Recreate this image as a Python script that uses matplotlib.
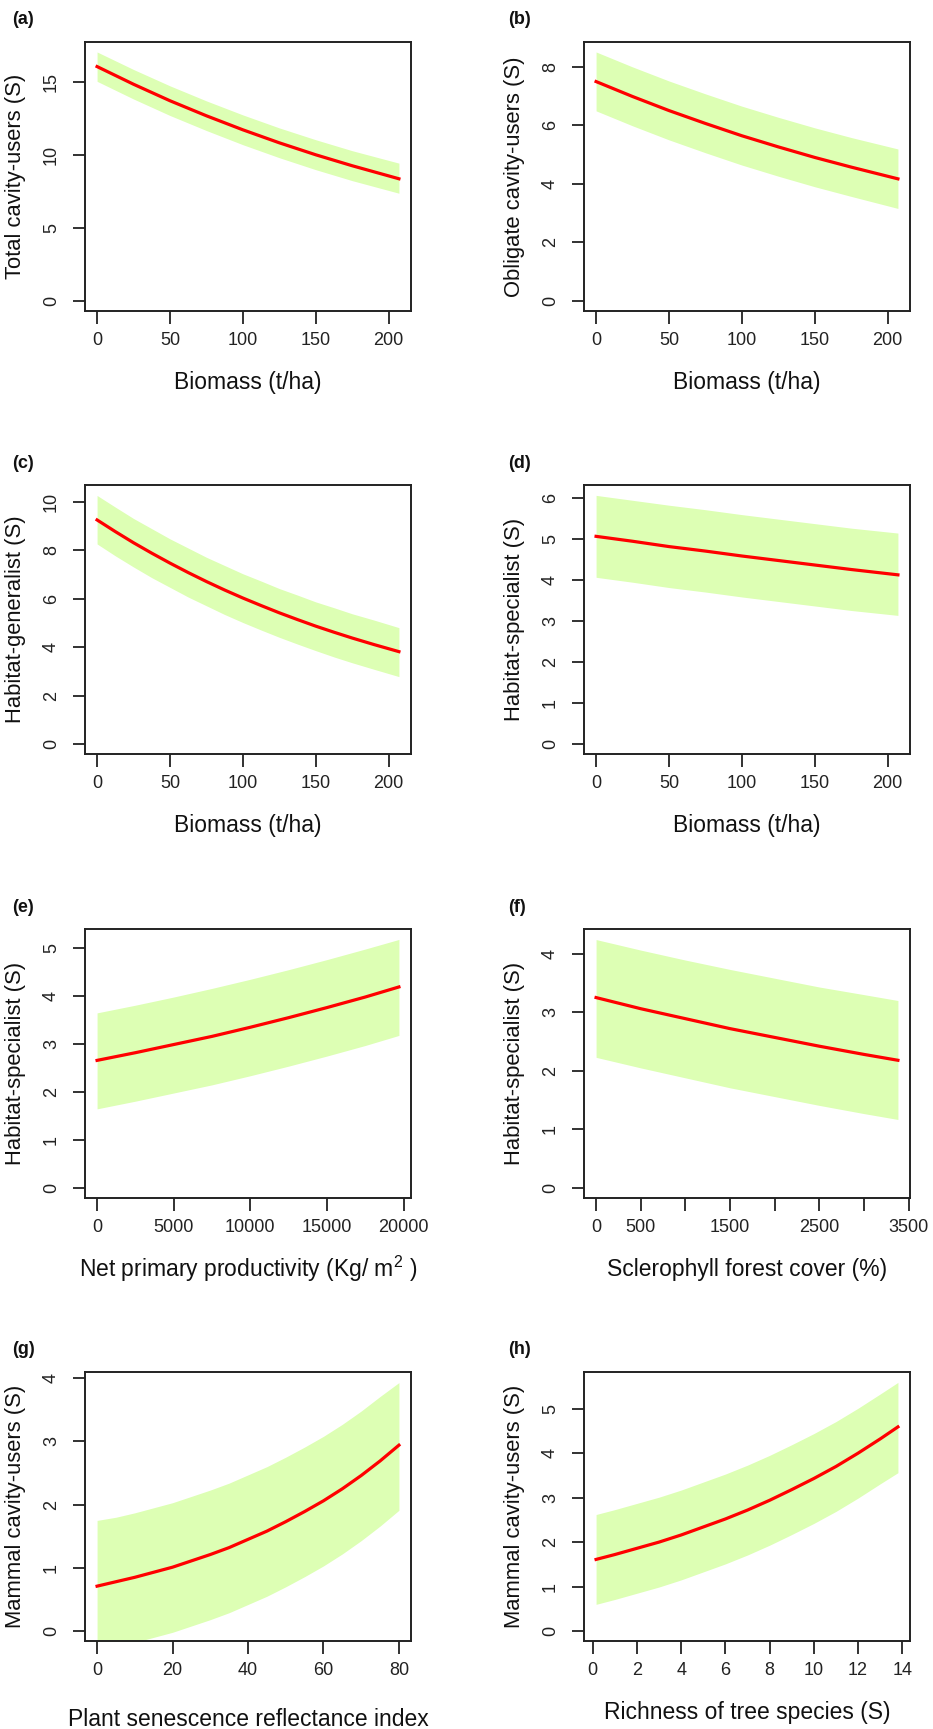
import matplotlib
matplotlib.use('Agg')
import matplotlib.pyplot as plt

plt.rcParams['font.family'] = ['Liberation Sans', 'DejaVu Sans']
plt.rcParams['mathtext.fontset'] = 'custom'
plt.rcParams['mathtext.rm'] = 'Liberation Sans'
plt.rcParams['mathtext.it'] = 'Liberation Sans:italic'

# (a) total cavity-users vs biomass
a_x = [0, 25, 50, 75, 100, 125, 150, 175, 207]
a_fit = [16.05, 14.84, 13.71, 12.68, 11.72, 10.83, 10.01, 9.26, 8.37]
a_lo = [15.04, 13.83, 12.70, 11.67, 10.70, 9.81, 8.99, 8.24, 7.38]
a_hi = [17.05, 15.85, 14.73, 13.70, 12.74, 11.85, 11.04, 10.29, 9.44]

# (b) obligate cavity-users vs biomass
b_x = [0, 25, 50, 75, 100, 125, 150, 175, 207]
b_fit = [7.49, 6.98, 6.50, 6.06, 5.64, 5.26, 4.90, 4.57, 4.17]
b_lo = [6.49, 5.98, 5.50, 5.06, 4.64, 4.26, 3.90, 3.57, 3.16]
b_hi = [8.50, 7.99, 7.51, 7.07, 6.65, 6.27, 5.91, 5.58, 5.19]

# (c) habitat-generalist vs biomass
c_x = [0, 12.5, 25, 37.5, 50, 62.5, 75, 87.5, 100, 112.5, 125, 137.5, 150, 162.5, 175, 190, 207]
c_fit = [9.24, 8.76, 8.30, 7.87, 7.46, 7.07, 6.70, 6.35, 6.02, 5.71, 5.41, 5.13, 4.86, 4.61, 4.37, 4.10, 3.81]
c_lo = [8.25, 7.76, 7.30, 6.86, 6.46, 6.06, 5.70, 5.34, 5.01, 4.70, 4.40, 4.12, 3.85, 3.59, 3.35, 3.08, 2.78]
c_hi = [10.25, 9.77, 9.30, 8.88, 8.46, 8.08, 7.70, 7.36, 7.02, 6.72, 6.41, 6.14, 5.86, 5.62, 5.37, 5.11, 4.80]

# (d) habitat-specialist vs biomass
d_x = [0, 25, 50, 75, 100, 125, 150, 175, 207]
d_fit = [5.07, 4.95, 4.82, 4.71, 4.59, 4.48, 4.37, 4.26, 4.13]
d_lo = [4.07, 3.95, 3.82, 3.71, 3.59, 3.48, 3.37, 3.26, 3.14]
d_hi = [6.07, 5.95, 5.83, 5.72, 5.60, 5.49, 5.38, 5.27, 5.15]

# (e) habitat-specialist vs net primary productivity
e_x = [0, 2500, 5000, 7500, 10000, 12500, 15000, 17500, 19700]
e_fit = [2.66, 2.82, 2.99, 3.16, 3.35, 3.55, 3.76, 3.98, 4.19]
e_lo = [1.65, 1.81, 1.98, 2.15, 2.34, 2.54, 2.75, 2.97, 3.18]
e_hi = [3.65, 3.81, 3.98, 4.16, 4.35, 4.55, 4.76, 4.98, 5.18]

# (f) habitat-specialist vs sclerophyll forest cover
f_x = [0, 500, 1000, 1500, 2000, 2500, 3000, 3380]
f_fit = [3.25, 3.06, 2.89, 2.72, 2.57, 2.42, 2.28, 2.18]
f_lo = [2.23, 2.05, 1.88, 1.71, 1.56, 1.41, 1.27, 1.17]
f_hi = [4.24, 4.06, 3.89, 3.73, 3.58, 3.43, 3.30, 3.20]

# (g) mammal cavity-users vs PSRI
g_x = [0, 5, 10, 15, 20, 25, 30, 35, 40, 45, 50, 55, 60, 65, 70, 75, 80]
g_fit = [0.71, 0.78, 0.85, 0.93, 1.01, 1.11, 1.21, 1.32, 1.45, 1.58, 1.73, 1.89, 2.06, 2.25, 2.46, 2.69, 2.94]
g_lo = [-0.32, -0.25, -0.18, -0.10, -0.02, 0.08, 0.18, 0.29, 0.42, 0.55, 0.70, 0.86, 1.03, 1.22, 1.43, 1.66, 1.91]
g_hi = [1.75, 1.80, 1.87, 1.95, 2.03, 2.13, 2.23, 2.34, 2.47, 2.60, 2.75, 2.91, 3.08, 3.27, 3.48, 3.71, 3.93]

# (h) mammal cavity-users vs tree richness
h_x = [0.15, 1, 2, 3, 4, 5, 6, 7, 8, 9, 10, 11, 12, 13, 13.8]
h_fit = [1.61, 1.72, 1.86, 2.00, 2.16, 2.34, 2.52, 2.72, 2.94, 3.18, 3.43, 3.70, 4.00, 4.32, 4.59]
h_lo = [0.60, 0.71, 0.85, 0.99, 1.15, 1.33, 1.51, 1.71, 1.93, 2.17, 2.42, 2.69, 2.99, 3.31, 3.56]
h_hi = [2.62, 2.73, 2.87, 3.01, 3.17, 3.35, 3.53, 3.73, 3.95, 4.19, 4.44, 4.71, 5.01, 5.33, 5.59]

panels = [
    ('(a)', a_x, a_fit, a_lo, a_hi, 'Total cavity-users (S)', 'Biomass (t/ha)',
     [0, 50, 100, 150, 200], None, [0, 5, 10, 15], (0, 17.05)),
    ('(b)', b_x, b_fit, b_lo, b_hi, 'Obligate cavity-users (S)', 'Biomass (t/ha)',
     [0, 50, 100, 150, 200], None, [0, 2, 4, 6, 8], (0, 8.50)),
    ('(c)', c_x, c_fit, c_lo, c_hi, 'Habitat-generalist (S)', 'Biomass (t/ha)',
     [0, 50, 100, 150, 200], None, [0, 2, 4, 6, 8, 10], (0, 10.27)),
    ('(d)', d_x, d_fit, d_lo, d_hi, 'Habitat-specialist (S)', 'Biomass (t/ha)',
     [0, 50, 100, 150, 200], None, [0, 1, 2, 3, 4, 5, 6], (0, 6.08)),
    ('(e)', e_x, e_fit, e_lo, e_hi, 'Habitat-specialist (S)',
     'Net primary productivity (Kg/ m$^2$ )',
     [0, 5000, 10000, 15000, 20000], None, [0, 1, 2, 3, 4, 5], (0, 5.19)),
    ('(f)', f_x, f_fit, f_lo, f_hi, 'Habitat-specialist (S)', 'Sclerophyll forest cover (%)',
     [0, 500, 1000, 1500, 2000, 2500, 3000, 3500],
     ['0', '500', '', '1500', '', '2500', '', '3500'], [0, 1, 2, 3, 4], (0, 4.25)),
    ('(g)', g_x, g_fit, g_lo, g_hi, 'Mammal cavity-users (S)', 'Plant senescence reflectance index',
     [0, 20, 40, 60, 80], None, [0, 1, 2, 3, 4], (0, 3.94)),
    ('(h)', h_x, h_fit, h_lo, h_hi, 'Mammal cavity-users (S)', 'Richness of tree species (S)',
     [0, 2, 4, 6, 8, 10, 12, 14], None, [0, 1, 2, 3, 4, 5], (0, 5.60)),
]

W, H = 933, 1729
fig = plt.figure(figsize=(W / 100, H / 100), dpi=100)
fig.patch.set_facecolor('white')

col_left = [85, 584]
row_top = [42, 485, 929, 1372]
ax_w, ax_h = 326, 269
xlab_y = [-0.264, -0.264, -0.264, -0.264, -0.264, -0.264, -0.29, -0.264]

for i, (tag, x, fit, lo, hi, ylab, xlab, xt, xtl, yt, yrng) in enumerate(panels):
    r, c = divmod(i, 2)
    left = col_left[c] / W
    bottom = 1 - (row_top[r] + ax_h) / H
    ax = fig.add_axes([left, bottom, ax_w / W, ax_h / H])

    ax.fill_between(x, lo, hi, color='#ddffb4', linewidth=0)
    ax.plot(x, fit, color='#ff0000', linewidth=2.3, solid_joinstyle='round')

    # R-style 4% padding
    xpad = (x[-1] - x[0]) * 0.04
    ax.set_xlim(x[0] - xpad, x[-1] + xpad)
    ypad = (yrng[1] - yrng[0]) * 0.04
    ax.set_ylim(yrng[0] - ypad, yrng[1] + ypad)

    ax.set_xticks(xt)
    if xtl is not None:
        ax.set_xticklabels(xtl)
    ax.set_yticks(yt)
    ax.tick_params(axis='both', direction='out', length=9, width=1.3,
                   labelsize=13, color='#222', labelcolor='#222')
    ax.tick_params(axis='x', pad=6)
    ax.tick_params(axis='y', labelrotation=90, pad=9)
    for lbl in ax.get_yticklabels():
        lbl.set_va('center')
    for sp in ax.spines.values():
        sp.set_linewidth(1.4)
        sp.set_color('#222')

    ax.set_ylabel(ylab, fontsize=15.8, color='#111')
    ax.yaxis.set_label_coords(-0.18, 0.5)
    ax.set_xlabel(xlab, fontsize=16.5, color='#111')
    ax.xaxis.set_label_coords(0.5, xlab_y[i])
    ax.xaxis.label.set_va('center')

    tx = 12 if c == 0 else 508
    ty = row_top[r] - 22
    fig.text(tx / W, 1 - ty / H, tag, fontsize=13, fontweight='bold',
             ha='left', va='center', color='#111')

fig.savefig('out.png', dpi=100, facecolor='white')
